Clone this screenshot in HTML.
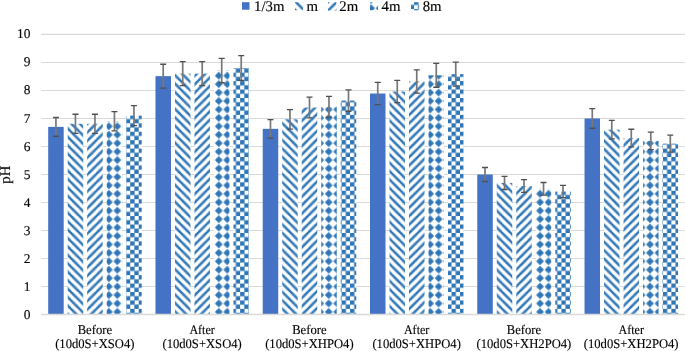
<!DOCTYPE html>
<html><head><meta charset="utf-8"><style>
html,body{margin:0;padding:0;background:#fff;}
svg{display:block;will-change:transform;}
text{font-family:"Liberation Serif",serif;font-size:13.2px;fill:#000;stroke:#000;stroke-width:0.12px;}
</style></head><body>
<svg width="685" height="351" viewBox="0 0 685 351" text-rendering="geometricPrecision">
<defs><pattern id="g1" patternUnits="userSpaceOnUse" width="8" height="8" patternTransform="translate(3.400,5.200) scale(1.0569,1.0544)"><rect width="8" height="8" fill="#fff"/><g fill="#2E75B6" stroke="#2E75B6" stroke-width="0.18" stroke-linejoin="miter"><path d="M0 0h2v1h-2zM7 0h1v1h-1zM0 1h3v1h-3zM1 2h3v1h-3zM2 3h3v1h-3zM3 4h3v1h-3zM4 5h3v1h-3zM5 6h3v1h-3zM0 7h1v1h-1zM6 7h2v1h-2z"/></g></pattern><pattern id="g2" patternUnits="userSpaceOnUse" width="8" height="8" patternTransform="translate(3.400,5.200) scale(1.0569,1.0544)"><rect width="8" height="8" fill="#fff"/><g fill="#2E75B6" stroke="#2E75B6" stroke-width="0.18" stroke-linejoin="miter"><path d="M0 0h1v1h-1zM6 0h2v1h-2zM5 1h3v1h-3zM4 2h3v1h-3zM3 3h3v1h-3zM2 4h3v1h-3zM1 5h3v1h-3zM0 6h3v1h-3zM0 7h2v1h-2zM7 7h1v1h-1z"/></g></pattern><pattern id="g3" patternUnits="userSpaceOnUse" width="8" height="8" patternTransform="translate(3.700,4.500) scale(1.0569,1.0544)"><rect width="8" height="8" fill="#fff"/><g fill="#2E75B6" stroke="#2E75B6" stroke-width="0.18" stroke-linejoin="miter"><path d="M3 0h1v1h-1zM2 1h3v1h-3zM1 2h5v1h-5zM0 3h7v1h-7zM1 4h5v1h-5zM2 5h3v1h-3zM3 6h1v1h-1z"/></g></pattern><pattern id="g4" patternUnits="userSpaceOnUse" width="8" height="8" patternTransform="translate(3.400,5.200) scale(1.0569,1.0544)"><rect width="8" height="8" fill="#fff"/><g fill="#2E75B6" stroke="#2E75B6" stroke-width="0.18" stroke-linejoin="miter"><path d="M0 0h4v1h-4zM0 1h4v1h-4zM0 2h4v1h-4zM0 3h4v1h-4zM4 4h4v1h-4zM4 5h4v1h-4zM4 6h4v1h-4zM4 7h4v1h-4z"/></g></pattern><pattern id="l1" patternUnits="userSpaceOnUse" width="8" height="8" patternTransform="translate(295.000,1.150) scale(1.0569,1.0544)"><rect width="8" height="8" fill="#fff"/><g fill="#2E75B6" stroke="#2E75B6" stroke-width="0.18" stroke-linejoin="miter"><path d="M0 0h2v1h-2zM7 0h1v1h-1zM0 1h3v1h-3zM1 2h3v1h-3zM2 3h3v1h-3zM3 4h3v1h-3zM4 5h3v1h-3zM5 6h3v1h-3zM0 7h1v1h-1zM6 7h2v1h-2z"/></g></pattern><pattern id="l2" patternUnits="userSpaceOnUse" width="8" height="8" patternTransform="translate(328.000,2.200) scale(1.0569,1.0544)"><rect width="8" height="8" fill="#fff"/><g fill="#2E75B6" stroke="#2E75B6" stroke-width="0.18" stroke-linejoin="miter"><path d="M0 0h1v1h-1zM6 0h2v1h-2zM5 1h3v1h-3zM4 2h3v1h-3zM3 3h3v1h-3zM2 4h3v1h-3zM1 5h3v1h-3zM0 6h3v1h-3zM0 7h2v1h-2zM7 7h1v1h-1z"/></g></pattern><pattern id="l3" patternUnits="userSpaceOnUse" width="8" height="8" patternTransform="translate(367.400,4.500) scale(1.0569,1.0544)"><rect width="8" height="8" fill="#fff"/><g fill="#2E75B6" stroke="#2E75B6" stroke-width="0.18" stroke-linejoin="miter"><path d="M3 0h1v1h-1zM2 1h3v1h-3zM1 2h5v1h-5zM0 3h7v1h-7zM1 4h5v1h-5zM2 5h3v1h-3zM3 6h1v1h-1z"/></g></pattern><pattern id="l4" patternUnits="userSpaceOnUse" width="8" height="8" patternTransform="translate(414.000,0.700) scale(1.0569,1.0544)"><rect width="8" height="8" fill="#fff"/><g fill="#2E75B6" stroke="#2E75B6" stroke-width="0.18" stroke-linejoin="miter"><path d="M0 0h4v1h-4zM0 1h4v1h-4zM0 2h4v1h-4zM0 3h4v1h-4zM4 4h4v1h-4zM4 5h4v1h-4zM4 6h4v1h-4zM4 7h4v1h-4z"/></g></pattern></defs>
<rect width="685" height="351" fill="#fff"/>
<line x1="41.2" x2="684.8" y1="286.58" y2="286.58" stroke="#D9D9D9" stroke-width="1.07"/>
<line x1="41.2" x2="684.8" y1="258.56" y2="258.56" stroke="#D9D9D9" stroke-width="1.07"/>
<line x1="41.2" x2="684.8" y1="230.54" y2="230.54" stroke="#D9D9D9" stroke-width="1.07"/>
<line x1="41.2" x2="684.8" y1="202.52" y2="202.52" stroke="#D9D9D9" stroke-width="1.07"/>
<line x1="41.2" x2="684.8" y1="174.50" y2="174.50" stroke="#D9D9D9" stroke-width="1.07"/>
<line x1="41.2" x2="684.8" y1="146.48" y2="146.48" stroke="#D9D9D9" stroke-width="1.07"/>
<line x1="41.2" x2="684.8" y1="118.46" y2="118.46" stroke="#D9D9D9" stroke-width="1.07"/>
<line x1="41.2" x2="684.8" y1="90.44" y2="90.44" stroke="#D9D9D9" stroke-width="1.07"/>
<line x1="41.2" x2="684.8" y1="62.42" y2="62.42" stroke="#D9D9D9" stroke-width="1.07"/>
<line x1="41.2" x2="684.8" y1="34.40" y2="34.40" stroke="#D9D9D9" stroke-width="1.07"/>
<text transform="translate(30.4,318.65) scale(1,1)" text-anchor="end" style="font-size:13.4px">0</text>
<text transform="translate(30.4,290.63) scale(1,1)" text-anchor="end" style="font-size:13.4px">1</text>
<text transform="translate(30.4,262.61) scale(1,1)" text-anchor="end" style="font-size:13.4px">2</text>
<text transform="translate(30.4,234.59) scale(1,1)" text-anchor="end" style="font-size:13.4px">3</text>
<text transform="translate(30.4,206.57) scale(1,1)" text-anchor="end" style="font-size:13.4px">4</text>
<text transform="translate(30.4,178.55) scale(1,1)" text-anchor="end" style="font-size:13.4px">5</text>
<text transform="translate(30.4,150.53) scale(1,1)" text-anchor="end" style="font-size:13.4px">6</text>
<text transform="translate(30.4,122.51) scale(1,1)" text-anchor="end" style="font-size:13.4px">7</text>
<text transform="translate(30.4,94.49) scale(1,1)" text-anchor="end" style="font-size:13.4px">8</text>
<text transform="translate(30.4,66.47) scale(1,1)" text-anchor="end" style="font-size:13.4px">9</text>
<text transform="translate(30.4,38.45) scale(1,1)" text-anchor="end" style="font-size:13.4px">10</text>
<rect x="48.20" y="126.87" width="15.5" height="187.73" fill="#4472C4"/>
<rect x="67.70" y="123.78" width="15.5" height="190.82" fill="url(#g1)"/>
<rect x="87.20" y="123.78" width="15.5" height="190.82" fill="url(#g2)"/>
<rect x="106.70" y="121.26" width="15.5" height="193.34" fill="url(#g3)"/>
<rect x="126.20" y="115.66" width="15.5" height="198.94" fill="url(#g4)"/>
<rect x="155.47" y="76.15" width="15.5" height="238.45" fill="#4472C4"/>
<rect x="174.97" y="73.63" width="15.5" height="240.97" fill="url(#g1)"/>
<rect x="194.47" y="73.63" width="15.5" height="240.97" fill="url(#g2)"/>
<rect x="213.97" y="70.55" width="15.5" height="244.05" fill="url(#g3)"/>
<rect x="233.47" y="68.02" width="15.5" height="246.58" fill="url(#g4)"/>
<rect x="262.73" y="128.83" width="15.5" height="185.77" fill="#4472C4"/>
<rect x="282.23" y="119.30" width="15.5" height="195.30" fill="url(#g1)"/>
<rect x="301.73" y="107.53" width="15.5" height="207.07" fill="url(#g2)"/>
<rect x="321.23" y="106.69" width="15.5" height="207.91" fill="url(#g3)"/>
<rect x="340.73" y="100.53" width="15.5" height="214.07" fill="url(#g4)"/>
<rect x="370.00" y="93.52" width="15.5" height="221.08" fill="#4472C4"/>
<rect x="389.50" y="91.56" width="15.5" height="223.04" fill="url(#g1)"/>
<rect x="409.00" y="81.47" width="15.5" height="233.13" fill="url(#g2)"/>
<rect x="428.50" y="75.31" width="15.5" height="239.29" fill="url(#g3)"/>
<rect x="448.00" y="74.19" width="15.5" height="240.41" fill="url(#g4)"/>
<rect x="477.27" y="174.50" width="15.5" height="140.10" fill="#4472C4"/>
<rect x="496.77" y="182.91" width="15.5" height="131.69" fill="url(#g1)"/>
<rect x="516.27" y="185.99" width="15.5" height="128.61" fill="url(#g2)"/>
<rect x="535.77" y="188.79" width="15.5" height="125.81" fill="url(#g3)"/>
<rect x="555.27" y="191.59" width="15.5" height="123.01" fill="url(#g4)"/>
<rect x="584.53" y="118.46" width="15.5" height="196.14" fill="#4472C4"/>
<rect x="604.03" y="129.67" width="15.5" height="184.93" fill="url(#g1)"/>
<rect x="623.53" y="138.07" width="15.5" height="176.53" fill="url(#g2)"/>
<rect x="643.03" y="140.88" width="15.5" height="173.72" fill="url(#g3)"/>
<rect x="662.53" y="143.68" width="15.5" height="170.92" fill="url(#g4)"/>
<line x1="41.2" x2="684.8" y1="314.60" y2="314.60" stroke="#D9D9D9" stroke-width="1.5"/>
<path d="M55.95 117.48V136.25" stroke="#787878" stroke-width="1.7" fill="none"/>
<path d="M52.95 117.48H58.95M52.95 136.25H58.95" stroke="#505050" stroke-width="1.3" fill="none"/>
<path d="M75.45 114.24V133.32" stroke="#787878" stroke-width="1.7" fill="none"/>
<path d="M72.45 114.24H78.45M72.45 133.32H78.45" stroke="#505050" stroke-width="1.3" fill="none"/>
<path d="M94.95 114.24V133.32" stroke="#787878" stroke-width="1.7" fill="none"/>
<path d="M91.95 114.24H97.95M91.95 133.32H97.95" stroke="#505050" stroke-width="1.3" fill="none"/>
<path d="M114.45 111.60V130.93" stroke="#787878" stroke-width="1.7" fill="none"/>
<path d="M111.45 111.60H117.45M111.45 130.93H117.45" stroke="#505050" stroke-width="1.3" fill="none"/>
<path d="M133.95 105.71V125.61" stroke="#787878" stroke-width="1.7" fill="none"/>
<path d="M130.95 105.71H136.95M130.95 125.61H136.95" stroke="#505050" stroke-width="1.3" fill="none"/>
<path d="M163.22 64.23V88.07" stroke="#787878" stroke-width="1.7" fill="none"/>
<path d="M160.22 64.23H166.22M160.22 88.07H166.22" stroke="#505050" stroke-width="1.3" fill="none"/>
<path d="M182.72 61.58V85.68" stroke="#787878" stroke-width="1.7" fill="none"/>
<path d="M179.72 61.58H185.72M179.72 85.68H185.72" stroke="#505050" stroke-width="1.3" fill="none"/>
<path d="M202.22 61.58V85.68" stroke="#787878" stroke-width="1.7" fill="none"/>
<path d="M199.22 61.58H205.22M199.22 85.68H205.22" stroke="#505050" stroke-width="1.3" fill="none"/>
<path d="M221.72 58.34V82.75" stroke="#787878" stroke-width="1.7" fill="none"/>
<path d="M218.72 58.34H224.72M218.72 82.75H224.72" stroke="#505050" stroke-width="1.3" fill="none"/>
<path d="M241.22 55.70V80.35" stroke="#787878" stroke-width="1.7" fill="none"/>
<path d="M238.22 55.70H244.22M238.22 80.35H244.22" stroke="#505050" stroke-width="1.3" fill="none"/>
<path d="M270.48 119.54V138.12" stroke="#787878" stroke-width="1.7" fill="none"/>
<path d="M267.48 119.54H273.48M267.48 138.12H273.48" stroke="#505050" stroke-width="1.3" fill="none"/>
<path d="M289.98 109.54V129.07" stroke="#787878" stroke-width="1.7" fill="none"/>
<path d="M286.98 109.54H292.98M286.98 129.07H292.98" stroke="#505050" stroke-width="1.3" fill="none"/>
<path d="M309.48 97.18V117.89" stroke="#787878" stroke-width="1.7" fill="none"/>
<path d="M306.48 97.18H312.48M306.48 117.89H312.48" stroke="#505050" stroke-width="1.3" fill="none"/>
<path d="M328.98 96.30V117.09" stroke="#787878" stroke-width="1.7" fill="none"/>
<path d="M325.98 96.30H331.98M325.98 117.09H331.98" stroke="#505050" stroke-width="1.3" fill="none"/>
<path d="M348.48 89.82V111.23" stroke="#787878" stroke-width="1.7" fill="none"/>
<path d="M345.48 89.82H351.48M345.48 111.23H351.48" stroke="#505050" stroke-width="1.3" fill="none"/>
<path d="M377.75 82.47V104.58" stroke="#787878" stroke-width="1.7" fill="none"/>
<path d="M374.75 82.47H380.75M374.75 104.58H380.75" stroke="#505050" stroke-width="1.3" fill="none"/>
<path d="M397.25 80.41V102.71" stroke="#787878" stroke-width="1.7" fill="none"/>
<path d="M394.25 80.41H400.25M394.25 102.71H400.25" stroke="#505050" stroke-width="1.3" fill="none"/>
<path d="M416.75 69.82V93.13" stroke="#787878" stroke-width="1.7" fill="none"/>
<path d="M413.75 69.82H419.75M413.75 93.13H419.75" stroke="#505050" stroke-width="1.3" fill="none"/>
<path d="M436.25 63.34V87.27" stroke="#787878" stroke-width="1.7" fill="none"/>
<path d="M433.25 63.34H439.25M433.25 87.27H439.25" stroke="#505050" stroke-width="1.3" fill="none"/>
<path d="M455.75 62.17V86.21" stroke="#787878" stroke-width="1.7" fill="none"/>
<path d="M452.75 62.17H458.75M452.75 86.21H458.75" stroke="#505050" stroke-width="1.3" fill="none"/>
<path d="M485.02 167.50V181.51" stroke="#787878" stroke-width="1.7" fill="none"/>
<path d="M482.02 167.50H488.02M482.02 181.51H488.02" stroke="#505050" stroke-width="1.3" fill="none"/>
<path d="M504.52 176.32V189.49" stroke="#787878" stroke-width="1.7" fill="none"/>
<path d="M501.52 176.32H507.52M501.52 189.49H507.52" stroke="#505050" stroke-width="1.3" fill="none"/>
<path d="M524.02 179.56V192.42" stroke="#787878" stroke-width="1.7" fill="none"/>
<path d="M521.02 179.56H527.02M521.02 192.42H527.02" stroke="#505050" stroke-width="1.3" fill="none"/>
<path d="M543.52 182.50V195.08" stroke="#787878" stroke-width="1.7" fill="none"/>
<path d="M540.52 182.50H546.52M540.52 195.08H546.52" stroke="#505050" stroke-width="1.3" fill="none"/>
<path d="M563.02 185.44V197.74" stroke="#787878" stroke-width="1.7" fill="none"/>
<path d="M560.02 185.44H566.02M560.02 197.74H566.02" stroke="#505050" stroke-width="1.3" fill="none"/>
<path d="M592.28 108.65V128.27" stroke="#787878" stroke-width="1.7" fill="none"/>
<path d="M589.28 108.65H595.28M589.28 128.27H595.28" stroke="#505050" stroke-width="1.3" fill="none"/>
<path d="M611.78 120.42V138.91" stroke="#787878" stroke-width="1.7" fill="none"/>
<path d="M608.78 120.42H614.78M608.78 138.91H614.78" stroke="#505050" stroke-width="1.3" fill="none"/>
<path d="M631.28 129.25V146.90" stroke="#787878" stroke-width="1.7" fill="none"/>
<path d="M628.28 129.25H634.28M628.28 146.90H634.28" stroke="#505050" stroke-width="1.3" fill="none"/>
<path d="M650.78 132.19V149.56" stroke="#787878" stroke-width="1.7" fill="none"/>
<path d="M647.78 132.19H653.78M647.78 149.56H653.78" stroke="#505050" stroke-width="1.3" fill="none"/>
<path d="M670.28 135.13V152.22" stroke="#787878" stroke-width="1.7" fill="none"/>
<path d="M667.28 135.13H673.28M667.28 152.22H673.28" stroke="#505050" stroke-width="1.3" fill="none"/>
<text transform="translate(94.83,333.7) scale(0.9570,1)" text-anchor="middle">Before</text>
<text transform="translate(94.83,347.8) scale(0.957,1)" text-anchor="middle">(10d0S+XSO4)</text>
<text transform="translate(202.10,333.7) scale(0.9139,1)" text-anchor="middle">After</text>
<text transform="translate(202.10,347.8) scale(0.957,1)" text-anchor="middle">(10d0S+XSO4)</text>
<text transform="translate(309.37,333.7) scale(0.9570,1)" text-anchor="middle">Before</text>
<text transform="translate(309.37,347.8) scale(0.957,1)" text-anchor="middle">(10d0S+XHPO4)</text>
<text transform="translate(416.63,333.7) scale(0.9139,1)" text-anchor="middle">After</text>
<text transform="translate(416.63,347.8) scale(0.957,1)" text-anchor="middle">(10d0S+XHPO4)</text>
<text transform="translate(523.90,333.7) scale(0.9570,1)" text-anchor="middle">Before</text>
<text transform="translate(523.90,347.8) scale(0.957,1)" text-anchor="middle">(10d0S+XH2PO4)</text>
<text transform="translate(631.17,333.7) scale(0.9139,1)" text-anchor="middle">After</text>
<text transform="translate(631.17,347.8) scale(0.957,1)" text-anchor="middle">(10d0S+XH2PO4)</text>
<text transform="translate(10.0,174.6) rotate(-90)" text-anchor="middle" style="font-size:14.8px">pH</text>
<rect x="242.0" y="2.2" width="7.5" height="7.5" fill="#4472C4"/>
<text x="254.00" y="10.8" style="font-size:14.8px">1/3m</text>
<rect x="295.0" y="2.2" width="8.0" height="8.0" fill="url(#l1)"/>
<text x="306.40" y="10.8" style="font-size:14.8px">m</text>
<rect x="328.0" y="2.2" width="8.4" height="8.4" fill="url(#l2)"/>
<text x="339.30" y="10.8" style="font-size:14.8px">2m</text>
<rect x="370.0" y="2.2" width="8.0" height="8.0" fill="url(#l3)"/>
<text x="381.60" y="10.8" style="font-size:14.8px">4m</text>
<rect x="411.0" y="2.2" width="8.1" height="8.1" fill="url(#l4)"/>
<text x="422.70" y="10.8" style="font-size:14.8px">8m</text>
</svg>
</body></html>
